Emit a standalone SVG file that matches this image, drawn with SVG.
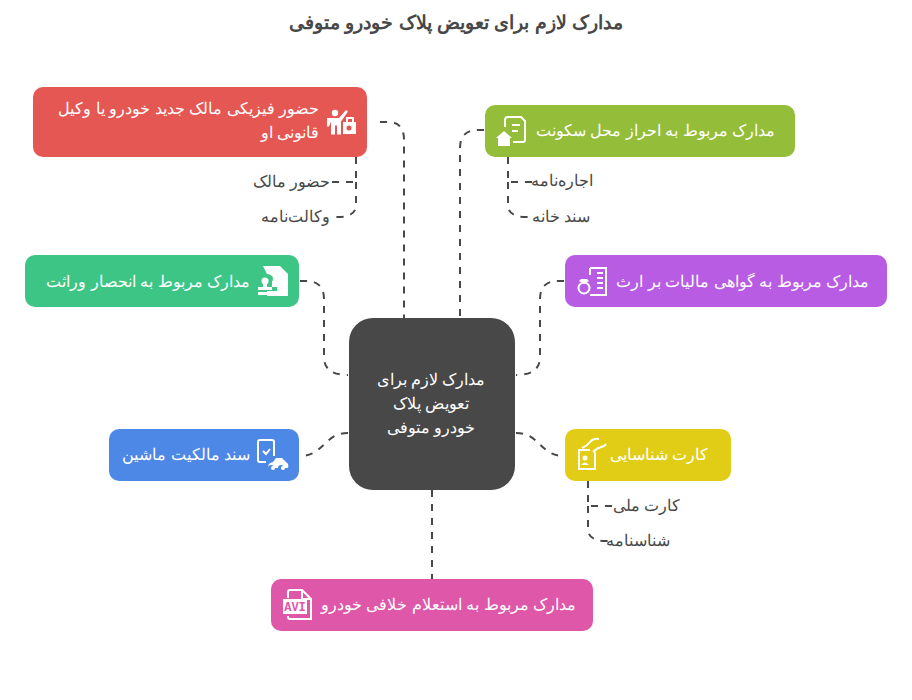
<svg xmlns="http://www.w3.org/2000/svg" width="912" height="700" viewBox="0 0 912 700">
<style>
text{font-family:"Liberation Sans",Arial,sans-serif;direction:rtl;unicode-bidi:embed}
.t{font-size:16px;fill:#fff}
.s{font-size:16px;fill:#484848}
.c{fill:none;stroke:#484848;stroke-width:2;stroke-dasharray:7 7}
.w{fill:#fff}
.o{fill:none;stroke:#fff;stroke-width:2}
</style>
<rect width="912" height="700" fill="#fff"/>
<text x="456" y="29" text-anchor="middle" style="font-size:19px;font-weight:700;fill:#484848">مدارک لازم برای تعویض پلاک خودرو متوفی</text>
<g id="connectors">
<path class="c" d="M380 122H388Q404 122 404 140V318"/>
<path class="c" d="M484 130H478Q460 130 460 148V318"/>
<path class="c" d="M300 281H306Q324 281 324 299V357Q324 375 348 375"/>
<path class="c" d="M564 281H558Q540 281 540 299V357Q540 375 516 375"/>
<path class="c" d="M516 433C540 433 540 456 564 456"/>
<path class="c" d="M348 433C324 433 324 456 300 456"/>
<path class="c" d="M432 490V579"/>
<path class="c" d="M356 157V182H332"/>
<path class="c" d="M356 182V205Q356 217 338 217H332"/>
<path class="c" d="M508 157V182H532"/>
<path class="c" d="M508 182V205Q508 217 526 217H532"/>
<path class="c" d="M588 481V506H612"/>
<path class="c" d="M588 506V529Q588 541 606 541H612"/>
</g>
<g id="center"><rect x="349" y="318" width="166" height="172" rx="24" fill="#484848"/>
<text class="t" x="431" y="385" text-anchor="middle">مدارک لازم برای</text>
<text class="t" x="431" y="409" text-anchor="middle">تعویض پلاک</text>
<text class="t" x="431" y="433" text-anchor="middle">خودرو متوفی</text></g>
<g id="n1"><rect x="33" y="87" width="334" height="70" rx="10" fill="#e55753"/>
<text class="t" x="319" y="114" text-anchor="start">حضور فیزیکی مالک جدید خودرو یا وکیل</text>
<text class="t" x="319" y="138" text-anchor="start">قانونی او</text>
<circle class="w" cx="335" cy="113" r="3.2"/>
<path class="w" d="M327 118h12l7-8 2 1.500-7 10v13h-4v-9h-2v9h-4v-13l-2 5h-2z"/>
<path class="w" d="M343 122h13v12h-13z"/><path class="o" d="M347 122v-4h6v4"/><circle cx="349" cy="128" r="2.500" fill="#e55753"/>
</g>
<g id="s1a"><text class="s" x="330" y="187" text-anchor="start">حضور مالک</text></g>
<g id="s1b"><text class="s" x="330" y="222" text-anchor="start">وکالت‌نامه</text></g>
<g id="n2"><rect x="485" y="105" width="310" height="52" rx="10" fill="#94bd3a"/>
<text class="t" x="775" y="136" text-anchor="start">مدارک مربوط به احراز محل سکونت</text>
<path class="o" d="M505 127v-7q0-3 3-3h13l4 4v19q0 2-2 2h-10"/><path class="o" d="M512 125h8M512 131h6"/>
<path class="w" d="M496 138l8-7 8 7h-2v8h-12v-8z"/></g>
<g id="s2a"><text class="s" x="593" y="186" text-anchor="start">اجاره‌نامه</text></g>
<g id="s2b"><text class="s" x="590" y="222" text-anchor="start">سند خانه</text></g>
<g id="n3"><rect x="25" y="255" width="274" height="52" rx="10" fill="#3dc585"/>
<text class="t" x="250" y="287" text-anchor="start">مدارک مربوط به انحصار وراثت</text>
<path class="w" d="M263 266h17l8 8v22h-21v-5h10v-4h-5v-5q2-4 0-6t-5-2z"/>
<circle cx="265" cy="281" r="3.500" class="w"/><path class="w" d="M263 284h4v3h5v3h-14v-3h5z"/><path class="w" d="M258 292h15v3h-15z"/>
</g>
<g id="n4"><rect x="565" y="255" width="322" height="52" rx="10" fill="#b85ce3"/>
<text class="t" x="869" y="287" text-anchor="start">مدارک مربوط به گواهی مالیات بر ارث</text>
<path class="o" d="M590 268h16v27h-16M590 268v7"/><path class="o" d="M597 273h6M597 278h6M597 283h6M597 288h6"/>
<circle class="o" cx="584" cy="288" r="5.500" stroke-width="2.500"/><path class="w" d="M581 279h6l2 2-5 3-5-3z"/></g>
<g id="n5"><rect x="565" y="429" width="166" height="52" rx="10" fill="#e1cd15"/>
<text class="t" x="708" y="460" text-anchor="start">کارت شناسایی</text>
<path class="o" d="M590 450h-11v19h16v-17"/>
<circle class="w" cx="585" cy="458" r="2.500"/><path class="w" d="M581 465q4-5 8 0z"/>
<path class="o" d="M582 448q5-2 8-6t9-3M593 452q4-4 8-5t5-3"/></g>
<g id="s5a"><text class="s" x="680" y="511" text-anchor="start">کارت ملی</text></g>
<g id="s5b"><text class="s" x="670" y="546" text-anchor="start">شناسنامه</text></g>
<g id="n6"><rect x="109" y="429" width="190" height="52" rx="10" fill="#4e88e7"/>
<text class="t" x="250" y="460" text-anchor="start">سند مالکیت ماشین</text>
<path class="o" d="M266 462h-6q-2 0-2-2v-18q0-2 2-2h12q2 0 2 2v14"/>
<path class="o" d="M263 451l3 3 4-5"/>
<path class="w" d="M268 467q0-4 5-5l3-4h6l5 5q2 1 1 5h-4a3 3 0 0 0-6 0h-4a3 3 0 0 0-6 0z"/>
<circle class="w" cx="273" cy="468" r="2"/><circle class="w" cx="283" cy="468" r="2"/></g>
<g id="n7"><rect x="271" y="579" width="322" height="52" rx="10" fill="#de57a8"/>
<text class="t" x="576" y="610" text-anchor="start">مدارک مربوط به استعلام خلافی خودرو</text>
<path class="o" d="M288 598v-6q0-2 2-2h12l9 9v20q0 0 0 0h-21q-2 0-2-2v-1M302 590v9h9"/>
<rect class="w" x="283" y="599" width="24" height="15"/>
<text x="295" y="611" text-anchor="middle" style="direction:ltr;font-family:'Liberation Mono',monospace;font-size:12px;font-weight:700;fill:#de57a8">AVI</text></g>
</svg>
